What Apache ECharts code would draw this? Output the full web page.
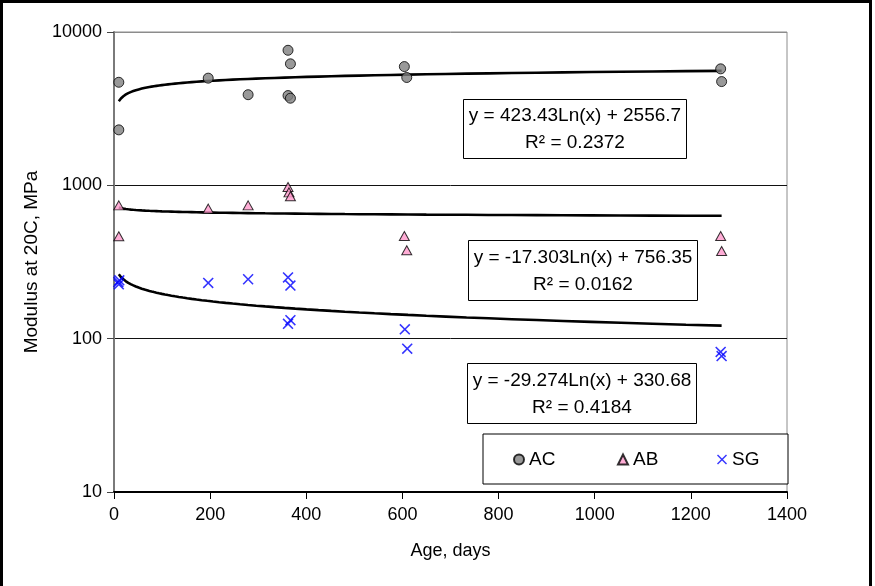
<!DOCTYPE html>
<html>
<head>
<meta charset="utf-8">
<script src="https://cdn.jsdelivr.net/npm/echarts@6/dist/echarts.min.js"></script>
<style>
html,body{margin:0;padding:0;background:#fff;}
#chart{width:875px;height:586px;}
</style>
</head>
<body>
<div id="chart"></div>
<script>
// ---- data ----
const acDays = [10, 10, 196, 279, 362, 367, 362, 367, 604, 609, 1262, 1264];
const acValues = [4700, 2300, 5000, 3900, 7600, 6200, 3850, 3700, 5950, 5050, 5750, 4750];

const abDays = [10, 10, 196, 279, 362, 364, 367, 604, 609, 1262, 1264];
const abValues = [740, 465, 705, 740, 975, 900, 848, 467, 377, 467, 373];

const sgDays = [9, 11, 10, 196, 279, 362, 367, 362, 367, 605, 610, 1262, 1264];
const sgValues = [234, 240, 226, 231, 244, 251, 222, 125, 132, 115, 86, 82, 77];

// logarithmic trendlines y = a*ln(x) + b (as printed on the chart)
const trendNames = ['AC trend', 'AB trend', 'SG trend'];
const trendA = [423.43, -17.303, -29.274];
const trendB = [2556.7, 756.35, 330.68];
const trendText = ['y = 423.43Ln(x) + 2556.7', 'y = -17.303Ln(x) + 756.35', 'y = -29.274Ln(x) + 330.68'];
const r2Text = ['R² = 0.2372', 'R² = 0.0162', 'R² = 0.4184'];
const trendRange = [10, 1264];

const xTicks = [0, 200, 400, 600, 800, 1000, 1200, 1400];
const yTicks = [10, 100, 1000, 10000];

const seriesNames = ['AC', 'AB', 'SG'];

// ---- build ----
const FONT = "'Liberation Sans', Arial, Helvetica, sans-serif";
const zip = (xs, ys) => xs.map((x, i) => [x, ys[i]]);

function trendPoints(k) {
  const pts = [];
  const n = 80;
  const l0 = Math.log(trendRange[0]), l1 = Math.log(trendRange[1]);
  for (let i = 0; i <= n; i++) {
    const x = Math.exp(l0 + (l1 - l0) * i / n);
    pts.push([x, trendA[k] * Math.log(x) + trendB[k]]);
  }
  return pts;
}

const crossPath = 'path://M0,1.2L1.2,0L6,4.8L10.8,0L12,1.2L7.2,6L12,10.8L10.8,12L6,7.2L1.2,12L0,10.8L4.8,6Z';

const chart = echarts.init(document.getElementById('chart'), null, {renderer: 'canvas'});

function eqBox(x, y, w, h, l1, l2) {
  return {
    type: 'group', left: x, top: y, z: 50,
    children: [
      {type: 'rect', shape: {x: 0, y: 0, width: w, height: h}, style: {fill: '#fff', stroke: '#000', lineWidth: 1}},
      {type: 'text', x: w / 2, y: h * 0.28, style: {text: l1, font: '19px ' + FONT, fill: '#000', textAlign: 'center', textVerticalAlign: 'middle'}},
      {type: 'text', x: w / 2, y: h * 0.74, style: {text: l2, font: '19px ' + FONT, fill: '#000', textAlign: 'center', textVerticalAlign: 'middle'}}
    ]
  };
}

const legendCommon = {
  orient: 'horizontal', padding: 0, itemWidth: 10, itemHeight: 10, itemGap: 5, top: 450,
  textStyle: {fontFamily: FONT, fontSize: 19, color: '#000'}, selectedMode: false, z: 60
};

const option = {
  animation: false,
  backgroundColor: '#fff',
  grid: {left: 114, right: 88, top: 32, bottom: 94, show: true, borderColor: '#8c8c8c', borderWidth: 1, backgroundColor: 'transparent'},
  xAxis: {
    type: 'value', min: 0, max: 1400, interval: 200,
    name: 'Age, days', nameLocation: 'middle', nameGap: 50,
    nameTextStyle: {fontFamily: FONT, fontSize: 18, color: '#000'},
    axisLine: {show: true, onZero: false, lineStyle: {color: '#000', width: 2}},
    axisTick: {show: true, inside: false, length: 7, lineStyle: {color: '#000', width: 1}},
    axisLabel: {fontFamily: FONT, fontSize: 18, color: '#000', margin: 14,
      formatter: v => xTicks.indexOf(v) >= 0 ? String(v) : ''},
    splitLine: {show: false}
  },
  yAxis: {
    type: 'log', logBase: 10, min: 10, max: 10000,
    name: 'Modulus at 20C, MPa', nameLocation: 'middle', nameGap: 71, nameRotate: 90,
    nameTextStyle: {fontFamily: FONT, fontSize: 19, color: '#000'},
    axisLine: {show: true, lineStyle: {color: '#7a7a7a', width: 2}},
    axisTick: {show: true, inside: false, length: 7, lineStyle: {color: '#444', width: 1}},
    axisLabel: {fontFamily: FONT, fontSize: 18, color: '#000', margin: 12,
      formatter: v => yTicks.indexOf(Math.round(v)) >= 0 ? String(Math.round(v)) : ''},
    splitLine: {show: true, lineStyle: {color: ['#111', '#111', '#111', '#8c8c8c'], width: 1}},
    minorTick: {show: false}
  },
  legend: [
    Object.assign({}, legendCommon, {left: 513, data: [{name: seriesNames[0], icon: 'circle'}]}),
    Object.assign({}, legendCommon, {left: 617, data: [{name: seriesNames[1], icon: 'triangle'}]}),
    Object.assign({}, legendCommon, {left: 717, data: [{name: seriesNames[2], icon: crossPath}]})
  ],
  graphic: [
    {type: 'rect', z: 40, shape: {x: 483, y: 434, width: 305, height: 50}, style: {fill: '#fff', stroke: '#000', lineWidth: 1}},
    eqBox(463, 99, 223, 59, trendText[0], r2Text[0]),
    eqBox(468, 240, 229, 60, trendText[1], r2Text[1]),
    eqBox(467, 363, 229, 60, trendText[2], r2Text[2]),
    {type: 'polyline', z: 70, shape: {points: [[1.5, 600], [1.5, 1.5], [870.5, 1.5], [870.5, 600]]}, style: {stroke: '#000', lineWidth: 3, fill: null}}
  ],
  series: [
    {name: trendNames[0], type: 'line', data: trendPoints(0), showSymbol: false, symbol: 'none', silent: true, z: 3,
      lineStyle: {color: '#000', width: 2.6}},
    {name: trendNames[1], type: 'line', data: trendPoints(1), showSymbol: false, symbol: 'none', silent: true, z: 3,
      lineStyle: {color: '#000', width: 2.6}},
    {name: trendNames[2], type: 'line', data: trendPoints(2), showSymbol: false, symbol: 'none', silent: true, z: 3,
      lineStyle: {color: '#000', width: 2.6}},
    {name: seriesNames[0], type: 'scatter', data: zip(acDays, acValues), symbol: 'circle', symbolSize: 10, z: 4,
      itemStyle: {color: '#808080', borderColor: '#000', borderWidth: 1}},
    {name: seriesNames[1], type: 'scatter', data: zip(abDays, abValues), symbol: 'triangle', symbolSize: [10, 9], z: 4,
      itemStyle: {color: '#ff99cc', borderColor: '#000', borderWidth: 1}},
    {name: seriesNames[2], type: 'scatter', data: zip(sgDays, sgValues), symbol: crossPath, symbolSize: 11, z: 4,
      itemStyle: {color: '#0000ff', borderWidth: 0}}
  ]
};
chart.setOption(option);
</script>
</body>
</html>
